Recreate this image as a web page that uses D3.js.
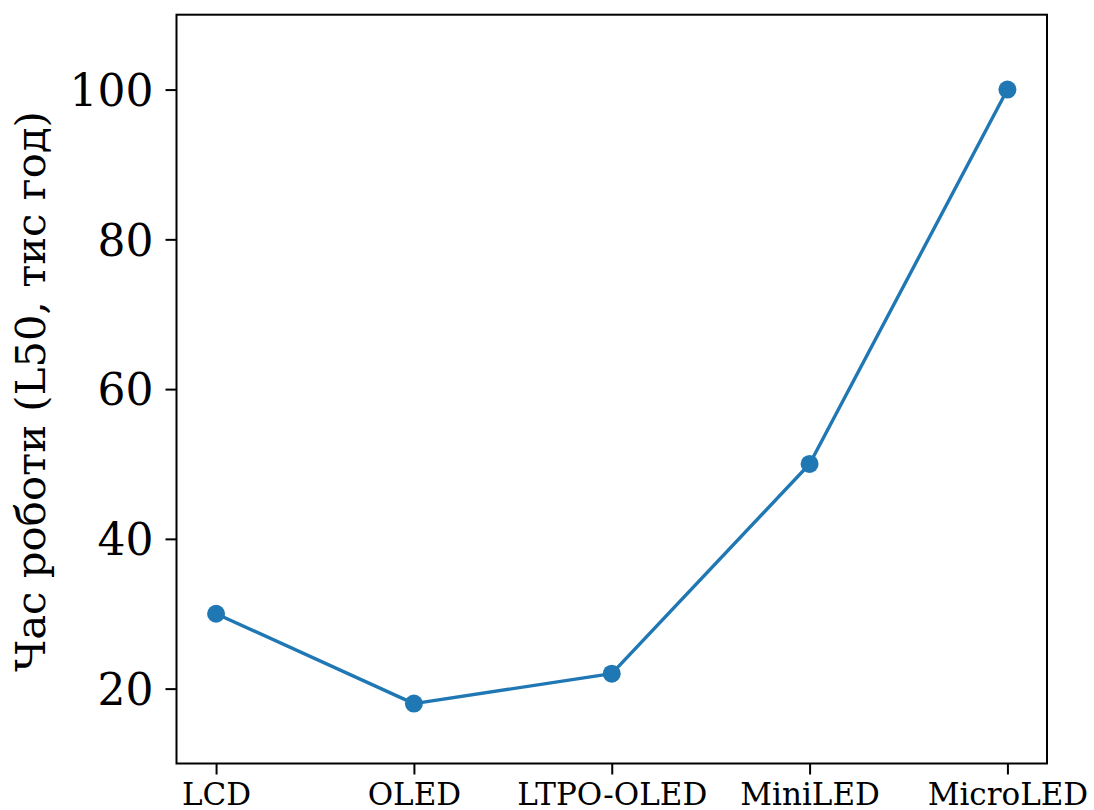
<!DOCTYPE html>
<html>
<head>
<meta charset="utf-8">
<script src="https://cdn.jsdelivr.net/npm/d3@7/dist/d3.min.js"></script>
<style>
  html, body { margin: 0; padding: 0; background: #fff; }
  svg { display: block; }
  text { font-family: "DejaVu Serif", serif; fill: #000; }
</style>
</head>
<body>
<svg id="chart" width="1094" height="810"></svg>
<script>
const categories = ["LCD", "OLED", "LTPO-OLED", "MiniLED", "MicroLED"];
const lifetimes = [30, 18, 22, 50, 100];
const yTicks = [20, 40, 60, 80, 100];
const yLabel = "Час роботи (L50, тис год)";

const W = 1094, H = 810;
const m = { left: 176.5, right: 1047, top: 14.7, bottom: 763.5 };

const svg = d3.select("#chart");

const x = d3.scaleLinear().domain([-0.2, categories.length - 1 + 0.2]).range([m.left, m.right]);
const y = d3.scaleLinear().domain([10, 110]).range([m.bottom, m.top]);

// Y axis
const yAxis = d3.axisLeft(y).tickValues(yTicks).tickSize(11).tickPadding(12).tickFormat(d3.format("d"));
const gy = svg.append("g").attr("transform", `translate(${m.left},0)`).call(yAxis);
gy.select(".domain").remove();
gy.selectAll(".tick line").attr("stroke", "#000").attr("stroke-width", 2);
gy.selectAll(".tick text").attr("font-size", 44).attr("dy", "0.36em")
  .attr("font-family", "DejaVu Serif").attr("fill", "#000");

// X axis
const xAxis = d3.axisBottom(x).tickValues(d3.range(categories.length)).tickSize(11).tickPadding(8)
  .tickFormat(i => categories[i]);
const gx = svg.append("g").attr("transform", `translate(0,${m.bottom})`).call(xAxis);
gx.select(".domain").remove();
gx.selectAll(".tick line").attr("stroke", "#000").attr("stroke-width", 2);
gx.selectAll(".tick text").attr("font-size", 31).attr("font-family", "DejaVu Serif").attr("fill", "#000");

// Frame
svg.append("rect")
  .attr("x", m.left).attr("y", m.top)
  .attr("width", m.right - m.left).attr("height", m.bottom - m.top)
  .attr("fill", "none").attr("stroke", "#000").attr("stroke-width", 2);

// Line
const line = d3.line().x((d, i) => x(i)).y(d => y(d));
svg.append("path").datum(lifetimes)
  .attr("d", line).attr("fill", "none")
  .attr("stroke", "#1f77b4").attr("stroke-width", 3.4).attr("stroke-linejoin", "round");

svg.selectAll("circle.pt").data(lifetimes).enter().append("circle")
  .attr("class", "pt")
  .attr("cx", (d, i) => x(i)).attr("cy", d => y(d)).attr("r", 9)
  .attr("fill", "#1f77b4");

// Y label
svg.append("text")
  .attr("transform", `translate(45,${(m.top + m.bottom) / 2 + 2.5}) rotate(-90)`)
  .attr("text-anchor", "middle")
  .attr("font-size", 41.8)
  .text(yLabel);
</script>
</body>
</html>
